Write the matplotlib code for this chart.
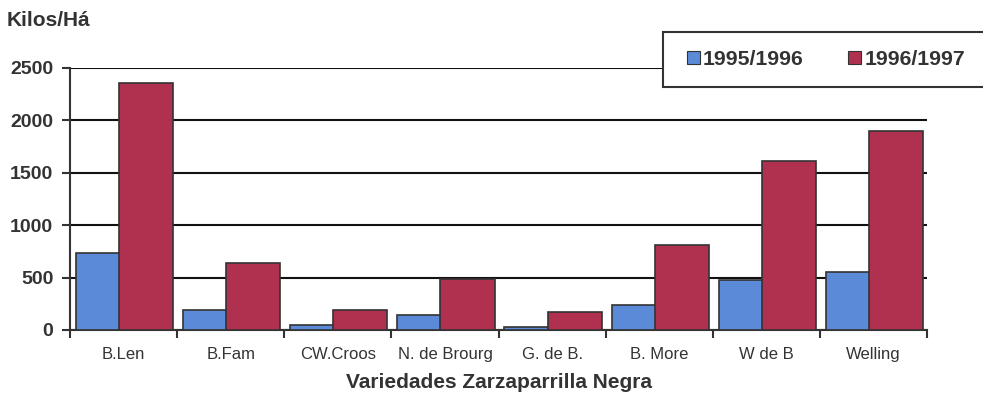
# %% imports
import matplotlib
matplotlib.use("Agg")
import matplotlib.pyplot as plt
import numpy as np
from matplotlib.patches import Patch, Rectangle

# %% data
varieties = ["B.Len", "B.Fam", "CW.Croos", "N. de Brourg", "G. de B.",
             "B. More", "W de B", "Welling"]
season_1 = [735, 190, 50, 145, 30, 240, 480, 555]        # 1995/1996
season_2 = [2360, 640, 190, 485, 170, 810, 1610, 1900]   # 1996/1997
series_names = ["1995/1996", "1996/1997"]
yticks = [0, 500, 1000, 1500, 2000, 2500]

# %% style
plt.rcParams["font.family"] = ["Liberation Sans", "DejaVu Sans"]
blue = "#5a8ad8"
red = "#b0304f"
dark = "#333333"
W, H = 983, 396

# %% figure
fig = plt.figure(figsize=(W / 100, H / 100), dpi=100)
ax = fig.add_axes([70 / W, 1 - 330 / H, (927 - 70) / W, (330 - 68) / H])

x = np.arange(len(varieties))
ax.bar(x - 0.5 + 0.056, season_1, width=0.5, align="edge", color=blue,
       edgecolor=dark, linewidth=1.2, zorder=3)
ax.bar(x - 0.5 + 0.458, season_2, width=0.505, align="edge", color=red,
       edgecolor=dark, linewidth=1.2, zorder=4)

ax.set_xlim(-0.5, len(varieties) - 0.5)
ax.set_ylim(0, 2500)

ax.set_yticks(yticks)
ax.set_yticklabels([str(v) for v in yticks], fontsize=14, fontweight="bold",
                   color=dark)
ax.yaxis.grid(True, color="#111111", linewidth=1.5, zorder=0)
ax.set_axisbelow(True)

ax.set_xticks(np.arange(len(varieties) + 1) - 0.5)
ax.set_xticklabels([])
ax.set_xticks(x, minor=True)
ax.set_xticklabels(varieties, minor=True, fontsize=12, color=dark)
ax.tick_params(axis="x", which="minor", length=0, pad=12)
ax.tick_params(axis="x", which="major", length=6, width=1.5, direction="out",
               color=dark)
ax.tick_params(axis="y", length=6, width=1.5, direction="out", color=dark, pad=6)

for side in ["top", "right"]:
    ax.spines[side].set_visible(False)
for side in ["left", "bottom"]:
    ax.spines[side].set_linewidth(1.5)
    ax.spines[side].set_color(dark)

fig.text(7 / W, 1 - 21 / H, "Kilos/Há", fontsize=15, fontweight="bold",
         color=dark, va="center", ha="left")
fig.text(499 / W, 1 - 382 / H, "Variedades Zarzaparrilla Negra",
         fontsize=15, fontweight="bold", color=dark, va="center", ha="center")

# legend box runs off the right edge of the picture
box = Rectangle((663 / W, 1 - 87 / H), 400 / W, 55 / H,
                transform=fig.transFigure, facecolor="white", edgecolor=dark,
                linewidth=1.5, zorder=10)
fig.add_artist(box)

handles = [Patch(facecolor=blue, edgecolor=dark, linewidth=0.8),
           Patch(facecolor=red, edgecolor=dark, linewidth=0.8)]
leg = fig.legend(handles, series_names, loc="center left",
                 bbox_to_anchor=(687 / W, 1 - 59.5 / H),
                 ncol=2, prop={"size": 15.3, "weight": "bold"},
                 handlelength=0.6, handleheight=0.6, handletextpad=0.15,
                 columnspacing=2.1, borderpad=0, borderaxespad=0,
                 frameon=False)
leg.set_zorder(11)
for t in leg.get_texts():
    t.set_color(dark)

fig.savefig("out.png", dpi=100)
